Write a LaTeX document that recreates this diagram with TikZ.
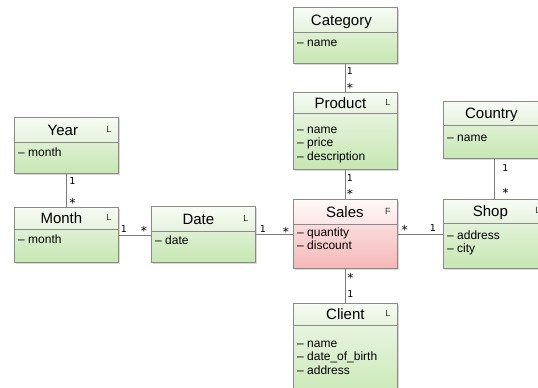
\documentclass[tikz,border=0pt]{standalone}
\usepackage{fontspec}
\setmainfont{Liberation Sans}
\newfontfamily\cardfont{DejaVu Sans}
\usetikzlibrary{shadows}

\definecolor{boxedge}{HTML}{8A8A8A}
\definecolor{linkgray}{HTML}{7C7C7C}
\definecolor{dimheadtop}{HTML}{F7FBF4}
\definecolor{dimheadbot}{HTML}{E6F3DE}
\definecolor{dimbodytop}{HTML}{F0F8EC}
\definecolor{dimbodybot}{HTML}{C7E7B2}
\definecolor{facheadtop}{HTML}{FEF8F8}
\definecolor{facheadbot}{HTML}{FCE6E6}
\definecolor{facbodytop}{HTML}{FDF0F0}
\definecolor{facbodybot}{HTML}{F5B8B8}

\tikzset{
  classbody/.style={rectangle, draw=boxedge, line width=0.8pt, inner sep=0pt,
    minimum width=104pt, anchor=north west,
    top color=dimbodytop, bottom color=dimbodybot,
    drop shadow={shadow xshift=1.5pt, shadow yshift=-1.5pt, opacity=0.3}},
  classhead/.style={rectangle, draw=boxedge, line width=0.8pt, inner sep=0pt,
    minimum width=104pt, anchor=north west,
    top color=dimheadtop, bottom color=dimheadbot},
  facttable/.style={
    classbody/.append style={top color=facbodytop, bottom color=facbodybot},
    classhead/.append style={top color=facheadtop, bottom color=facheadbot}},
  titletext/.style={inner sep=0pt, text height=10.7pt, text depth=0pt,
    font=\fontsize{15}{18}\selectfont},
  markertext/.style={inner sep=0pt, text height=6.5pt, text depth=0pt,
    font=\fontsize{9}{10}\selectfont, text=black!80},
  attrtext/.style={inner sep=0pt, anchor=north west, align=left,
    font=\fontsize{12}{13.5}\selectfont},
  link/.style={draw=linkgray, line width=0.8pt},
  card/.style={inner sep=0pt, text height=7pt, text depth=0pt,
    font=\cardfont\fontsize{9.5}{11}\selectfont},
}

% #1 name, #2 top-left corner, #3 height, #4 header height, #5 title,
% #6 title x offset, #7 table kind, #8 gap under header, #9 attributes
\newcommand\umlclass[9]{%
  \node[classbody, minimum height=#3pt] (#1) at (#2) {};
  \node[classhead, minimum height=#4pt] (#1-head) at (#1.north west) {};
  \node[titletext] (#1-title) at ([xshift=#6pt]#1-head.center) {#5};
  \node[markertext] (#1-mark) at ([xshift=-10pt,yshift=1pt]#1-head.east) {#7};
  \node[attrtext] (#1-attrs) at ([xshift=4pt,yshift=-#8pt]#1-head.south west) {\strut#9};
}
\newcommand\many{\raisebox{-3.1pt}{\scalebox{1.3}{*}}}

\begin{document}
\begin{tikzpicture}[x=1pt,y=-1pt]
\useasboundingbox (0,0) rectangle (538,388);
\clip (0,0) rectangle (538,388);

% dimension tables
\umlclass{category}{293,7}{56}{25}{Category}{-4}{}{3.6}{\textendash\ name}
\umlclass{product}{293,92}{77}{21}{Product}{-5}{L}{9.6}{\textendash\ name\\\textendash\ price\\\textendash\ description}
\umlclass{year}{14,117}{56}{25}{Year}{-3.5}{L}{3.6}{\textendash\ month}
\umlclass{month}{14,207}{55}{22}{Month}{-5}{L}{3.6}{\textendash\ month}
\umlclass{date}{151,206}{56}{25}{Date}{-5}{L}{2.6}{\textendash\ date}
\umlclass{country}{443,101}{57}{24}{Country}{-4}{}{5.6}{\textendash\ name}
\umlclass{shop}{443,199}{69}{24}{Shop}{-5}{L}{5.6}{\textendash\ address\\\textendash\ city}
\umlclass{client}{293,303}{100}{22}{Client}{0}{L}{11.6}{\textendash\ name\\\textendash\ date\_of\_birth\\\textendash\ address}

% fact table
\begin{scope}[facttable]
\umlclass{sales}{293,199}{69}{25}{Sales}{-0.5}{F}{1.6}{\textendash\ quantity\\\textendash\ discount}
\end{scope}

% associations
\draw[link] (category.south) -- (product.north);
\node[card] (c1a) at ([xshift=4.5pt,yshift=-7pt]category.south) {1};
\node[card] (c1b) at ([xshift=4.5pt,yshift=6pt]product.north) {\many};

\draw[link] (product.south) -- (sales.north);
\node[card] (c2a) at ([xshift=4.5pt,yshift=-8pt]product.south) {1};
\node[card] (c2b) at ([xshift=4.5pt,yshift=7pt]sales.north) {\many};

\draw[link] (year.south) -- (month.north);
\node[card] (c3a) at ([xshift=6pt,yshift=-7pt]year.south) {1};
\node[card] (c3b) at ([xshift=6pt,yshift=6pt]month.north) {\many};

\draw[link] (month.east) -- (month.east -| date.west);
\node[card] (c4a) at ([xshift=5pt,yshift=6pt]month.east) {1};
\node[card] (c4b) at ([xshift=-7pt,yshift=6pt]month.east -| date.west) {\many};

\draw[link] ([yshift=0.5pt]date.east) -- ([yshift=0.5pt]date.east -| sales.west);
\node[card] (c5a) at ([xshift=7pt,yshift=5pt]date.east) {1};
\node[card] (c5b) at ([xshift=-7pt,yshift=5pt]date.east -| sales.west) {\many};

\draw[link] (sales.east) -- (sales.east -| shop.west);
\node[card] (c6a) at ([xshift=7pt,yshift=6pt]sales.east) {\many};
\node[card] (c6b) at ([xshift=-10pt,yshift=6pt]sales.east -| shop.west) {1};

\draw[link] (sales.south) -- (client.north);
\node[card] (c7a) at ([xshift=5pt,yshift=-7pt]sales.south) {\many};
\node[card] (c7b) at ([xshift=5pt,yshift=9pt]client.north) {1};

\draw[link] ([xshift=-1pt]country.south) -- ([xshift=-1pt]shop.north);
\node[card] (c8a) at ([xshift=10pt,yshift=-9pt]country.south) {1};
\node[card] (c8b) at ([xshift=10pt,yshift=8pt]shop.north) {\many};
\end{tikzpicture}
\end{document}
